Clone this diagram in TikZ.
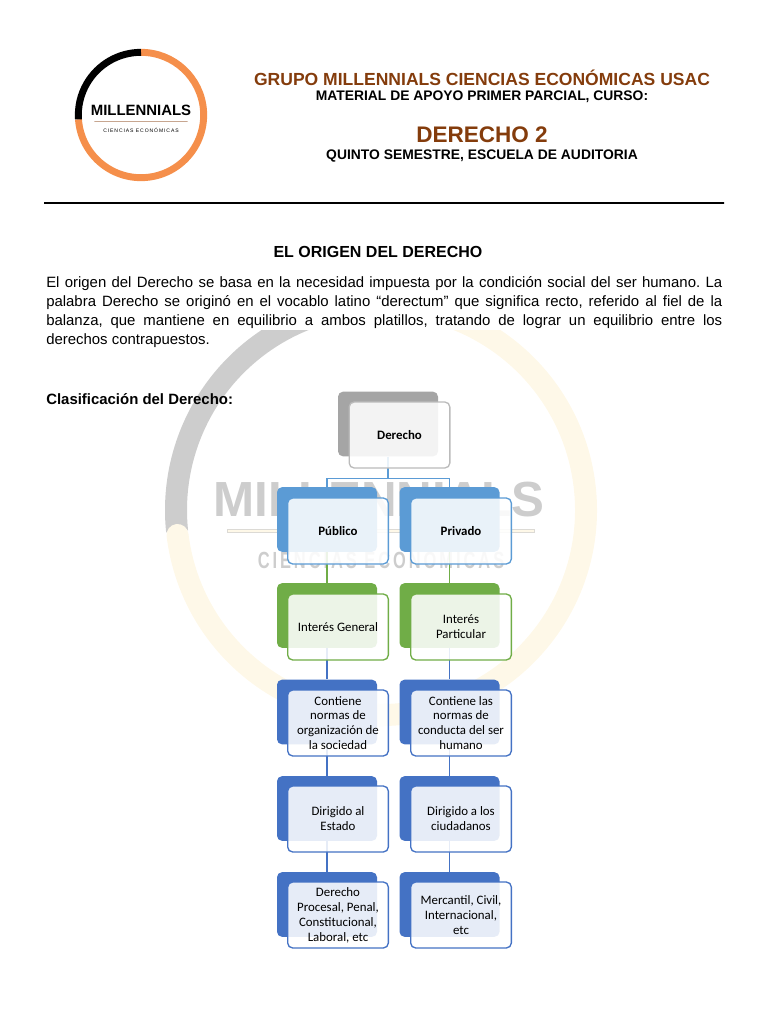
\documentclass[tikz,border=0pt]{standalone}
\usepackage{xcolor}
\usepackage{graphicx}
\usepackage{fontspec}
\setmainfont{Liberation Sans}
\newfontfamily\boxfont{Carlito}
\newfontfamily\spacedfont[LetterSpace=18]{Liberation Sans}
\usepackage{tikz}
\definecolor{titlebrown}{HTML}{843C0C}
\definecolor{logoorange}{HTML}{F58F4B}
\definecolor{ringgray}{HTML}{CDCDCD}
\definecolor{ringcream}{HTML}{FEF8E8}
\definecolor{softgray}{HTML}{A5A5A5}
\definecolor{softblue}{HTML}{5B9BD5}
\definecolor{softgreen}{HTML}{70AD47}
\definecolor{deepblue}{HTML}{4472C4}

\begin{document}
\begin{tikzpicture}[
    x=0.75pt, y=-0.75pt,
    backbox/.style={rectangle, draw=none, fill=#1, rounded corners=3.75pt, minimum width=75pt, minimum height=48.5pt, inner sep=0pt},
    frontbox/.style={rectangle, draw=#1, fill=white, fill opacity=0.87, text opacity=1, rounded corners=3.75pt, minimum width=75.5pt, minimum height=49.5pt, inner sep=0pt, align=center, font=\boxfont\fontsize{9.65}{11.2}\selectfont, line width=1pt},
    conn/.style={draw=#1, line width=1pt},
    headline/.style={font=\fontsize{10.4}{12}\selectfont\bfseries, inner sep=0pt},
    brownline/.style={font=\fontsize{#1}{#1}\selectfont\bfseries, text=titlebrown, inner sep=0pt},
    logoarc/.style={line width=5.2pt, draw=#1},
    ringarc/.style={line width=16.5pt, draw=#1}
]
    \useasboundingbox (0,0) rectangle (768,1024);

    % --- Watermark behind the chart ---
    \coordinate (ringc) at (381,510);
    \begin{scope}
        \clip (0,330) rectangle (768,1024);
        \draw[ringarc=ringgray] (ringc) ++(90:153.75pt) arc[start angle=90, end angle=186, radius=153.75pt];
        \draw[ringarc=ringcream, line cap=round] (ringc) ++(187:153.75pt) arc[start angle=187, end angle=450, radius=153.75pt];
    \end{scope}
    \node[inner sep=0pt, text=ringgray, font=\fontsize{37}{37}\selectfont\bfseries] (wmname) at (379,500) {MILLENNIALS};
    \node[draw=ringgray!70!ringcream, fill=ringcream, minimum width=230pt, minimum height=2.5pt, inner sep=0pt] (wmrule) at (381,531) {};
    \node[inner sep=0pt, text=ringgray] (wmsub) at (381,558) {\scalebox{0.88}[1.25]{\fontsize{14}{14}\selectfont\spacedfont\bfseries CIENCIAS ECONÓMICAS}};

    % --- Logo ---
    \coordinate (logoc) at (141,115);
    \draw[logoarc=logoorange] (logoc) ++(184:47pt) arc[start angle=184, end angle=450, radius=47pt];
    \draw[logoarc=black] (logoc) ++(90:47pt) arc[start angle=90, end angle=184, radius=47pt];
    \node[inner sep=0pt, font=\fontsize{11.2}{12}\selectfont\bfseries] (logoname) at (141,110) {MILLENNIALS};
    \node[draw=titlebrown!70, minimum width=70pt, minimum height=0pt, inner sep=0pt, line width=0.4pt] (logorule) at (141,121) {};
    \node[inner sep=0pt, font=\fontsize{3.8}{5}\selectfont\spacedfont] (logosub) at (141,130) {CIENCIAS ECONÓMICAS};

    % --- Header ---
    \node[brownline=13.15] (grupo) at (482,78) {GRUPO MILLENNIALS CIENCIAS ECONÓMICAS USAC};
    \node[headline] (material) at (482,97) {MATERIAL DE APOYO PRIMER PARCIAL, CURSO:};
    \node[brownline=16.9] (curso) at (482,135) {DERECHO 2};
    \node[headline] (quinto) at (482,156) {QUINTO SEMESTRE, ESCUELA DE AUDITORIA};
    \node[draw=black, minimum width=510pt, minimum height=0pt, inner sep=0pt, line width=1.3pt] (headrule) at (384,203) {};

    % --- Body text ---
    \node[headline, font=\fontsize{12}{12}\selectfont\bfseries] (origen) at (378,252) {EL ORIGEN DEL DERECHO};
    \node[anchor=north west, inner sep=0pt, text width=507pt, align=justify, font=\fontsize{11.2}{14.4}\selectfont\frenchspacing] (parrafo) at (46,276) {El origen del Derecho se basa en la necesidad impuesta por la condición social del ser humano. La\linebreak palabra Derecho se originó en el vocablo latino “derectum” que significa recto, referido al fiel de la\linebreak balanza, que mantiene en equilibrio a ambos platillos, tratando de lograr un equilibrio entre los\linebreak derechos contrapuestos.};
    \node[anchor=west, inner sep=0pt, font=\fontsize{11.2}{12}\selectfont\bfseries] (clasif) at (46,399) {Clasificación del Derecho:};

    % --- Back plates ---
    \node[backbox=softgray] (derechoback) at (388,424) {};
    \node[backbox=softblue] (publicoback) at (327,519.5) {};
    \node[backbox=softblue] (privadoback) at (449.5,519.5) {};
    \node[backbox=softgreen] (generalback) at (327,615.5) {};
    \node[backbox=softgreen] (particularback) at (449.5,615.5) {};
    \node[backbox=deepblue] (normasback) at (327,712) {};
    \node[backbox=deepblue] (conductaback) at (449.5,712) {};
    \node[backbox=deepblue] (estadoback) at (327,808.5) {};
    \node[backbox=deepblue] (ciudadback) at (449.5,808.5) {};
    \node[backbox=deepblue] (procesalback) at (327,904.5) {};
    \node[backbox=deepblue] (mercantilback) at (449.5,904.5) {};

    % Connections
    \draw[conn=softblue] (derechoback.south) -- ++(0,22) -| (publicoback.north);
    \draw[conn=softblue] (derechoback.south) -- ++(0,22) -| (privadoback.north);
    \draw[conn=softgreen] (publicoback) -- (generalback);
    \draw[conn=softgreen] (privadoback) -- (particularback);
    \draw[conn=deepblue] (generalback) -- (normasback);
    \draw[conn=deepblue] (particularback) -- (conductaback);
    \draw[conn=deepblue] (normasback) -- (estadoback);
    \draw[conn=deepblue] (conductaback) -- (ciudadback);
    \draw[conn=deepblue] (estadoback) -- (procesalback);
    \draw[conn=deepblue] (ciudadback) -- (mercantilback);

    % --- Front boxes ---
    \node[frontbox=softgray!75, font=\boxfont\fontsize{9.65}{11.2}\selectfont\bfseries] (derecho) at (399.5,435) {Derecho};
    \node[frontbox=softblue, font=\boxfont\fontsize{9.65}{11.2}\selectfont\bfseries] (publico) at (338,531) {Público};
    \node[frontbox=softblue, font=\boxfont\fontsize{9.65}{11.2}\selectfont\bfseries] (privado) at (461,531) {Privado};
    \node[frontbox=softgreen] (general) at (338,627) {Interés General};
    \node[frontbox=softgreen] (particular) at (461,627) {Interés\\Particular};
    \node[frontbox=deepblue] (normas) at (338,723) {Contiene\\normas de\\organización de\\la sociedad};
    \node[frontbox=deepblue] (conducta) at (461,723) {Contiene las\\normas de\\conducta del ser\\humano};
    \node[frontbox=deepblue] (estado) at (338,819) {Dirigido al\\Estado};
    \node[frontbox=deepblue] (ciudad) at (461,819) {Dirigido a los\\ciudadanos};
    \node[frontbox=deepblue] (procesal) at (338,915) {Derecho\\Procesal, Penal,\\Constitucional,\\Laboral, etc};
    \node[frontbox=deepblue] (mercantil) at (461,915) {Mercantil, Civil,\\Internacional,\\etc};
\end{tikzpicture}
\end{document}
